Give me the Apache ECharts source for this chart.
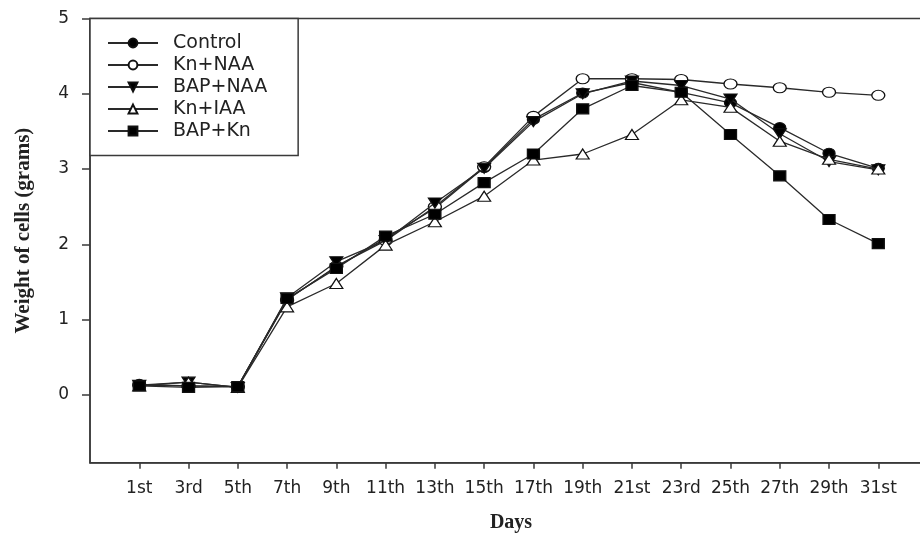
<!DOCTYPE html>
<html>
<head>
<meta charset="utf-8">
<script src="https://cdn.jsdelivr.net/npm/echarts@6/dist/echarts.min.js"></script>
<style>html,body{margin:0;padding:0;background:#fff}#c{width:920px;height:536px}</style>
</head>
<body>
<div id="c"></div>
<script>
const categories = ['1st','3rd','5th','7th','9th','11th','13th','15th','17th','19th','21st','23rd','25th','27th','29th','31st'];
const seriesNames = ['Control','Kn+NAA','BAP+NAA','Kn+IAA','BAP+Kn'];
const control = [0.14,0.12,0.11,1.27,1.70,2.08,2.48,3.02,3.66,4.01,4.15,4.02,3.88,3.55,3.21,3.01];
const knNAA   = [0.13,0.12,0.11,1.26,1.71,2.05,2.50,3.03,3.70,4.20,4.20,4.19,4.13,4.08,4.02,3.98];
const bapNAA  = [0.13,0.17,0.10,1.29,1.77,2.05,2.55,3.01,3.63,4.00,4.17,4.11,3.93,3.47,3.10,2.99];
const knIAA   = [0.12,0.17,0.10,1.17,1.48,1.99,2.30,2.64,3.12,3.20,3.46,3.92,3.82,3.37,3.13,3.00];
const bapKn   = [0.12,0.10,0.11,1.28,1.68,2.11,2.40,2.82,3.20,3.80,4.11,4.02,3.46,2.91,2.33,2.01];
const yTicks = [0,1,2,3,4,5];

const allData = [control, knNAA, bapNAA, knIAA, bapKn];
const symbols = [
  {symbol:'circle', fill:'#000', rotate:0, size:[12,10]},
  {symbol:'circle', fill:'#fff', rotate:0, size:[13,10]},
  {symbol:'triangle', fill:'#000', rotate:180, size:[13,10]},
  {symbol:'triangle', fill:'#fff', rotate:0, size:[13,10]},
  {symbol:'rect', fill:'#000', rotate:0, size:[12,10]}
];
const xIdx = categories.map((c,i)=>i+1);

const chart = echarts.init(document.getElementById('c'), null, {renderer:'canvas'});
const font = 'DejaVu Sans';
chart.setOption({
  backgroundColor:'#fff',
  animation:false,
  grid:{left:90, right:-2, top:18.5, bottom:73.3, show:true, borderColor:'#3a3a3a', borderWidth:1.5,
        backgroundColor:'transparent', containLabel:false, outerBoundsMode:'none'},
  legend:{
    orient:'vertical', left:90, top:18.5,
    padding:[15,31,15,17],
    borderColor:'#3a3a3a', borderWidth:1.5, backgroundColor:'#fff',
    itemWidth:50, itemHeight:11, itemGap:3,
    textStyle:{fontFamily:font, fontSize:19, color:'#222', padding:[0,0,0,10]},
    data:seriesNames
  },
  xAxis:{
    type:'value', min:0, max:16.887,
    name:'Days', nameLocation:'middle', nameGap:50,
    nameTextStyle:{fontFamily:'Liberation Serif', fontWeight:'bold', fontSize:20, color:'#222', padding:[0,0,0,10]},
    axisLine:{show:true, onZero:false, lineStyle:{color:'#3a3a3a', width:1.5}},
    axisTick:{show:true, length:6, inside:false, lineStyle:{color:'#3a3a3a', width:1.5}, customValues:xIdx},
    axisLabel:{fontFamily:font, fontSize:17, color:'#222', margin:17, customValues:xIdx,
      formatter:(v)=>categories[Math.round(v)-1] || ''},
    splitLine:{show:false}
  },
  yAxis:{
    type:'value', min:-0.9, max:5,
    name:'Weight of cells (grams)', nameLocation:'middle', nameGap:56, nameRotate:90,
    nameTextStyle:{fontFamily:'Liberation Serif', fontWeight:'bold', fontSize:21, color:'#222', padding:[0,0,0,20]},
    axisLine:{show:true, onZero:false, lineStyle:{color:'#3a3a3a', width:1.5}},
    axisTick:{show:true, length:8, lineStyle:{color:'#3a3a3a', width:1.5}, customValues:yTicks},
    axisLabel:{fontFamily:font, fontSize:17, color:'#222', margin:21, customValues:yTicks},
    splitLine:{show:false}
  },
  series: seriesNames.map((n,k)=>({
    name:n, type:'line',
    data: allData[k].map((v,i)=>[xIdx[i], v]),
    symbol:symbols[k].symbol, symbolRotate:symbols[k].rotate, symbolSize:symbols[k].size,
    showAllSymbol:true,
    lineStyle:{color:'#2a2a2a', width:1.3},
    itemStyle:{color:symbols[k].fill, borderColor:'#111', borderWidth:1.2},
    emphasis:{disabled:true},
    z: 2+k
  }))
});
</script>
</body>
</html>
